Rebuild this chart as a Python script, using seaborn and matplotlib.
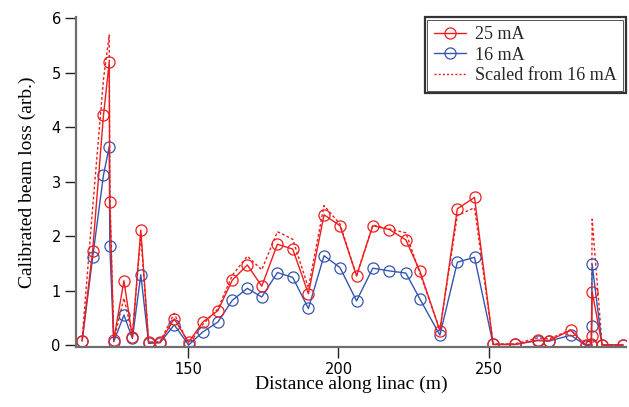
#!/usr/bin/env python3
# -*- coding: utf-8 -*-
"""
plot.py
=======
Calibrated beam loss along the linac at 25 mA and 16 mA, plus the
16 mA curve scaled up to 25 mA.
"""

import numpy as np
import pandas as pd
import matplotlib
matplotlib.use("Agg")
import matplotlib.pyplot as plt
from matplotlib.lines import Line2D
from matplotlib.patches import Rectangle
import seaborn as sns

# ---------------------------------------------------------------------------
# Data
# ---------------------------------------------------------------------------
distance_m = [114.8, 118.3, 121.9, 123.8, 124.0, 125.3, 128.7, 131.5, 134.3,
              136.9, 140.7, 145.4, 150.2, 154.9, 159.9, 164.7, 169.7, 174.5,
              179.7, 184.8, 190.0, 195.2, 200.5, 206.0, 211.4, 216.9, 222.4,
              227.1, 233.7, 239.5, 245.2, 251.4, 258.6, 266.2, 269.9, 277.2,
              282.2, 284.0, 284.1, 284.3, 287.6, 294.6]

loss_25mA = [0.08, 1.73, 4.22, 5.19, 2.63, 0.09, 1.18, 0.14, 2.11,
             0.05, 0.05, 0.48, 0.05, 0.42, 0.63, 1.19, 1.47, 1.08,
             1.85, 1.76, 0.94, 2.39, 2.19, 1.27, 2.19, 2.12, 1.93,
             1.35, 0.26, 2.50, 2.71, 0.01, 0.01, 0.09, 0.08, 0.27,
             0.00, 0.02, 0.17, 0.98, 0.00, 0.00]

loss_16mA = [0.07, 1.61, 3.12, 3.64, 1.82, 0.06, 0.55, 0.12, 1.29,
             0.03, 0.04, 0.37, 0.00, 0.24, 0.42, 0.82, 1.04, 0.88,
             1.33, 1.24, 0.67, 1.64, 1.42, 0.81, 1.41, 1.36, 1.32,
             0.84, 0.18, 1.52, 1.61, 0.01, 0.01, 0.08, 0.07, 0.18,
             -0.01, 0.00, 0.35, 1.48, 0.00, 0.00]

loss_scaled = [0.11, 2.52, 4.88, 5.69, 2.84, 0.09, 0.86, 0.19, 2.02,
               0.05, 0.06, 0.58, 0.00, 0.38, 0.66, 1.28, 1.63, 1.38,
               2.08, 1.94, 1.05, 2.56, 2.22, 1.27, 2.20, 2.13, 2.06,
               1.31, 0.28, 2.38, 2.52, 0.02, 0.02, 0.13, 0.11, 0.28,
               -0.02, 0.00, 0.55, 2.31, 0.00, 0.00]

x_ticks = [150, 200, 250]
y_ticks = [0, 1, 2, 3, 4, 5, 6]

RED  = "#f01c1c"
BLUE = "#3556b0"
AXIS_GREY = "#6e6e6e"
SERIF = ["Liberation Serif", "DejaVu Serif"]

df = pd.DataFrame({
    "distance": distance_m,
    "25 mA": loss_25mA,
    "16 mA": loss_16mA,
    "scaled": loss_scaled,
})

# ===========================================================================
# Plot
# ===========================================================================
sns.set_theme(style="ticks")
plt.rcParams["font.family"] = ["DejaVu Sans"]

fig = plt.figure(figsize=(6.29, 4.07), dpi=100)
ax = fig.add_axes([0.121, 0.147, 0.874, 0.811])

common = dict(data=df, x="distance", sort=False, estimator=None, ax=ax)

sns.lineplot(y="scaled", color=RED, lw=1.0, dashes=False, **common)
ax.lines[-1].set_linestyle((0, (2.0, 1.6)))
sns.lineplot(y="16 mA", color=BLUE, lw=1.0, marker="o", markersize=8,
             markerfacecolor="none", markeredgecolor=BLUE,
             markeredgewidth=0.9, **common)
sns.lineplot(y="25 mA", color=RED, lw=1.0, marker="o", markersize=8,
             markerfacecolor="none", markeredgecolor=RED,
             markeredgewidth=0.9, **common)

ax.set_xlim(112.8, 295.5)
ax.set_ylim(-0.04, 6.02)
ax.set_xticks(x_ticks)
ax.set_yticks(y_ticks)

ax.set_xlabel("Distance along linac (m)", family=SERIF, fontsize=14,
              color="black", labelpad=-1)
ax.set_ylabel("Calibrated beam loss (arb.)", family=SERIF, fontsize=14,
              color="black", labelpad=11)

sns.despine(ax=ax)
for side in ("left", "bottom"):
    ax.spines[side].set_color(AXIS_GREY)
    ax.spines[side].set_linewidth(1.6)
ax.tick_params(axis="both", direction="out", length=8, width=1.0,
               color="#222222", labelsize=10.5, labelcolor="black", pad=3)

# --- legend with a double border ---
handles = [
    Line2D([], [], color=RED, lw=1.0, marker="o", markersize=8,
           markerfacecolor="none", markeredgewidth=0.9),
    Line2D([], [], color=BLUE, lw=1.0, marker="o", markersize=8,
           markerfacecolor="none", markeredgewidth=0.9),
    Line2D([], [], color=RED, lw=1.0, linestyle=(0, (1.5, 1.5))),
]
leg = ax.legend(handles, ["25 mA", "16 mA", "Scaled from 16 mA"],
                loc="upper right", bbox_to_anchor=(1.0, 1.0),
                borderaxespad=0.0, fancybox=False, framealpha=1.0,
                edgecolor="#333333", handlelength=1.8, handletextpad=0.5,
                labelspacing=0.2, borderpad=0.5,
                prop={"family": SERIF, "size": 13})
leg.get_frame().set_linewidth(1.6)

fig.canvas.draw()
bb = leg.get_window_extent().transformed(fig.transFigure.inverted())
dx, dy = 2.5 / fig.bbox.width, 2.5 / fig.bbox.height
fig.add_artist(Rectangle((bb.x0 + dx, bb.y0 + dy),
                         bb.width - 2 * dx, bb.height - 2 * dy,
                         transform=fig.transFigure, fill=False,
                         edgecolor="#555555", lw=0.7, zorder=10))

fig.savefig("out.png", dpi=100)
plt.close(fig)
